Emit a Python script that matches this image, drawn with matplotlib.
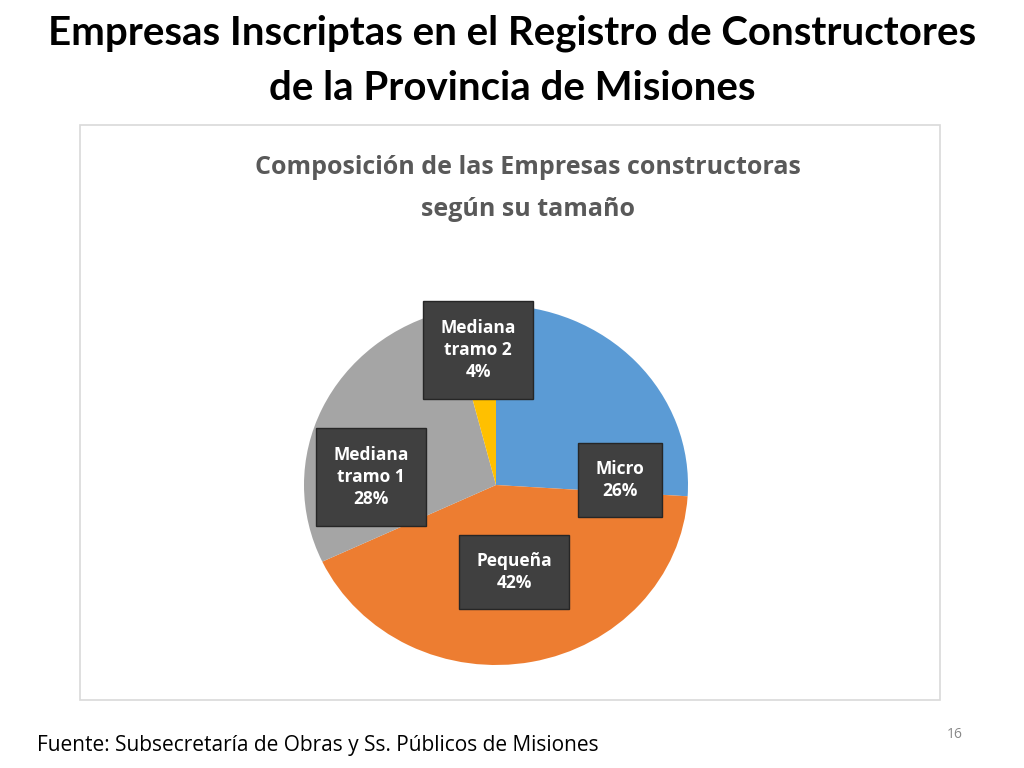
import matplotlib
matplotlib.use("Agg")
import matplotlib.pyplot as plt
from matplotlib.patches import Rectangle

labels = ["Micro", "Pequeña", "Mediana\ntramo 1", "Mediana\ntramo 2"]
values = [26, 42, 28, 4]
colors = ["#5B9BD5", "#ED7D31", "#A5A5A5", "#FFC000"]
# label box centres in pixels (x, y from top)
label_pos = [(620, 480), (514, 572), (371, 477), (478, 350)]

W, H = 1024, 768
fig = plt.figure(figsize=(W / 100, H / 100), dpi=100)
fig.patch.set_facecolor("white")
plt.rcParams["font.family"] = ["Open Sans", "DejaVu Sans"]

def fx(x):
    return x / W

def fy(y):
    return 1 - y / H

# chart panel
fig.patches.append(Rectangle((fx(80), fy(700)), fx(940) - fx(80), fy(125) - fy(700),
                             transform=fig.transFigure, facecolor="white",
                             edgecolor="#D9D9D9", lw=1.2, zorder=-5))

fig.text(0.5, fy(33), "Empresas Inscriptas en el Registro de Constructores",
         ha="center", va="center", fontsize=29, fontweight="bold", family="Lato")
fig.text(0.5, fy(88), "de la Provincia de Misiones",
         ha="center", va="center", fontsize=29, fontweight="bold", family="Lato")
fig.text(fx(528), fy(168), "Composición de las Empresas constructoras",
         ha="center", va="center", fontsize=18, fontweight="bold", color="#595959")
fig.text(fx(528), fy(209), "según su tamaño",
         ha="center", va="center", fontsize=18, fontweight="bold", color="#595959")

cx, cy, rx, ry = 496, 485, 192, 180
ax = fig.add_axes([fx(cx - rx), fy(cy + ry), 2 * rx / W, 2 * ry / H], zorder=2)
ax.pie(values, colors=colors, startangle=90, counterclock=False,
       wedgeprops=dict(linewidth=0))
ax.set_aspect("auto")
ax.set_xlim(-1, 1)
ax.set_ylim(-1, 1)
ax.set_axis_off()

for lab, v, (px, py) in zip(labels, values, label_pos):
    fig.text(fx(px), fy(py), f"{lab}\n{v}%", ha="center", va="center",
             fontsize=12.5, fontweight="bold", color="white", linespacing=1.3,
             zorder=5,
             bbox=dict(boxstyle="square,pad=1.0", facecolor="#404040",
                       edgecolor="#262626"))

fig.text(fx(37), fy(745), "Fuente: Subsecretaría de Obras y Ss. Públicos de Misiones",
         ha="left", va="center", fontsize=15)
fig.text(fx(955), fy(735), "16", ha="center", va="center", fontsize=10,
         color="#888888")

fig.savefig("out.png", dpi=100)
